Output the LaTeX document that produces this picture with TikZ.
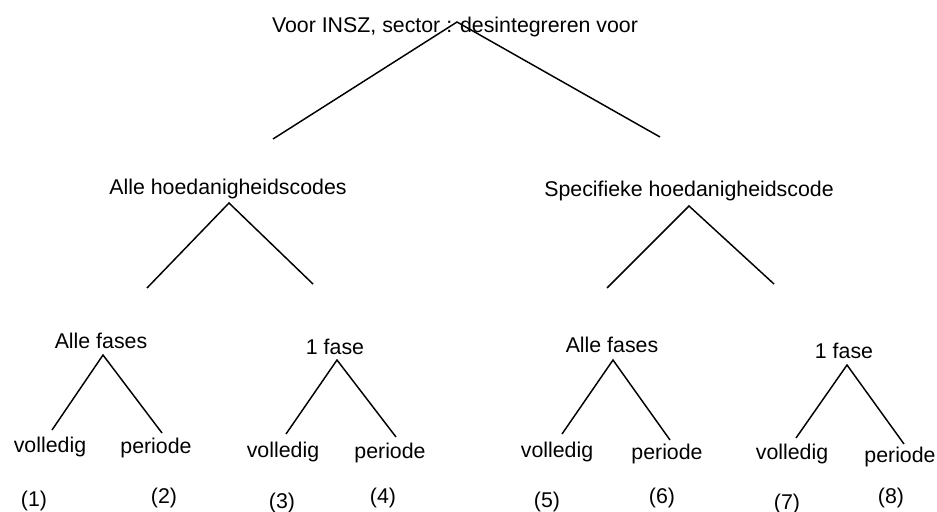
\documentclass[tikz,border=0pt]{standalone}
\usepackage{fontspec}
\setmainfont{Liberation Sans}
\begin{document}
\begin{tikzpicture}[x=0.75pt, y=-0.75pt]
\tikzstyle{text_style} = [anchor=base, inner sep=0pt, font=\fontsize{16}{19}\selectfont]
\tikzstyle{edge_style} = [draw=black, line width=1.1pt]

\useasboundingbox (0,0) rectangle (937,511);

% labels
\node[text_style] (root) at (455,32) {Voor INSZ, sector : desintegreren voor};
\node[text_style] (alle_codes) at (228,194) {Alle hoedanigheidscodes};
\node[text_style] (spec_code) at (689,196) {Specifieke hoedanigheidscode};

\node[text_style] (fases_a) at (101,348) {Alle fases};
\node[text_style] (fase_a) at (335,354) {1 fase};
\node[text_style] (fases_s) at (612,352) {Alle fases};
\node[text_style] (fase_s) at (844,358) {1 fase};

\node[text_style] (vol1) at (50,452) {volledig};
\node[text_style] (per2) at (156,453) {periode};
\node[text_style] (vol3) at (283,457) {volledig};
\node[text_style] (per4) at (390,458) {periode};
\node[text_style] (vol5) at (557,457) {volledig};
\node[text_style] (per6) at (667,459) {periode};
\node[text_style] (vol7) at (792,459) {volledig};
\node[text_style] (per8) at (900,462) {periode};

\node[text_style] (n1) at (34,506) {(1)};
\node[text_style] (n2) at (164,503) {(2)};
\node[text_style] (n3) at (282,508) {(3)};
\node[text_style] (n4) at (383,503) {(4)};
\node[text_style] (n5) at (547,507) {(5)};
\node[text_style] (n6) at (662,503) {(6)};
\node[text_style] (n7) at (787,509) {(7)};
\node[text_style] (n8) at (891,503) {(8)};

% line ends
\coordinate (root_top) at (457,22);
\coordinate (root_l) at (273,139);
\coordinate (root_r) at (660,137);
\coordinate (alle_top) at (229,203);
\coordinate (alle_l) at (147,288);
\coordinate (alle_r) at (313,284);
\coordinate (spec_top) at (689,206);
\coordinate (spec_l) at (607,288);
\coordinate (spec_r) at (774,284);
\coordinate (fases_a_top) at (103,355);
\coordinate (fases_a_l) at (52,430);
\coordinate (fases_a_r) at (162,433);
\coordinate (fase_a_top) at (337,360);
\coordinate (fase_a_l) at (286,434);
\coordinate (fase_a_r) at (396,437);
\coordinate (fases_s_top) at (613,360);
\coordinate (fases_s_l) at (562,434);
\coordinate (fases_s_r) at (670,440);
\coordinate (fase_s_top) at (847,365);
\coordinate (fase_s_l) at (796,438);
\coordinate (fase_s_r) at (904,444);

\draw[edge_style] (root_l) -- (root_top) -- (root_r);
\draw[edge_style] (alle_l) -- (alle_top) -- (alle_r);
\draw[edge_style] (spec_l) -- (spec_top) -- (spec_r);
\draw[edge_style] (fases_a_l) -- (fases_a_top) -- (fases_a_r);
\draw[edge_style] (fase_a_l) -- (fase_a_top) -- (fase_a_r);
\draw[edge_style] (fases_s_l) -- (fases_s_top) -- (fases_s_r);
\draw[edge_style] (fase_s_l) -- (fase_s_top) -- (fase_s_r);
\end{tikzpicture}
\end{document}
